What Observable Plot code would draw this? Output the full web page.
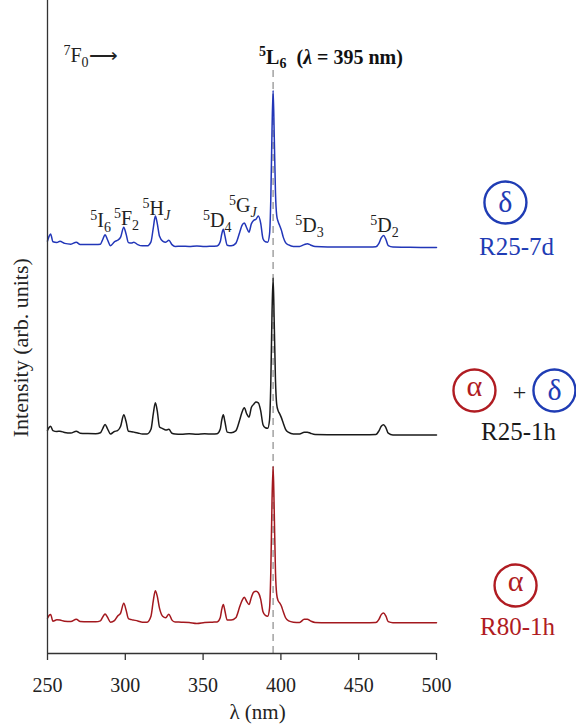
<!DOCTYPE html>
<html>
<head>
<meta charset="utf-8">
<script src="https://cdn.jsdelivr.net/npm/d3@7"></script>
<script src="https://cdn.jsdelivr.net/npm/@observablehq/plot@0.6"></script>
<style>
  html, body { margin: 0; padding: 0; background: #fff; }
  #chart { width: 576px; height: 727px; overflow: hidden; }
</style>
</head>
<body>
<div id="chart"></div>
<script>
// Wavelength grid (nm)
const wavelength = [250,251,252,253.5,256,258,261,265,268.5,271,276,281,284,285.5,287,288.5,290.5,293,295,297,299,300.5,302,304,305.5,308,311,314,316.5,318,319.3,320.5,322,324,326,328,330,332,336,341,346,351,356,359,361,362,363,364,365.5,368,371,373.5,375,376.5,378,379.5,381,382.5,384,385.5,387,388.5,390,391.5,392.7,393.5,394.3,395,395.7,396.5,397.3,398.2,399.2,400.3,401.5,403,405,408,412,415,417,419,422,430,440,450,457,461,463,464.5,466,467.5,469,472,480,490,500];

// Normalised intensities (arb. units)
const r25_7d = [0.035,0.065,0.08,0.03,0.025,0.033,0.02,0.015,0.028,0.012,0.013,0.012,0.015,0.045,0.075,0.045,0.005,0.03,0.04,0.06,0.124,0.08,0.025,0.022,0.028,0.012,0.004,0.004,0.03,0.12,0.195,0.15,0.065,0.035,0.028,0.04,0.012,0.0,0.002,0.0,0.003,0.0,0.002,0.003,0.03,0.08,0.11,0.07,0.008,0.004,0.02,0.09,0.135,0.15,0.12,0.092,0.145,0.167,0.175,0.195,0.15,0.05,0.03,0.028,0.08,0.3,0.75,1.0,0.72,0.35,0.2,0.16,0.135,0.105,0.06,0.025,0.01,0.0,0.0,0.012,0.018,0.01,0.0,-0.003,-0.003,-0.004,-0.004,-0.002,0.02,0.055,0.07,0.045,0.005,-0.004,-0.005,-0.006,-0.006];
const r25_1h = [0.022,0.042,0.05,0.022,0.016,0.018,0.01,0.006,0.018,0.005,0.003,0.002,0.008,0.035,0.061,0.035,0.0,0.016,0.022,0.05,0.123,0.08,0.017,0.015,0.012,0.007,0.0,0.0,0.03,0.13,0.2,0.15,0.045,0.035,0.025,0.03,0.005,0.0,-0.002,0.001,-0.002,0.001,0.0,0.002,0.03,0.09,0.123,0.08,0.012,0.008,0.02,0.09,0.14,0.168,0.13,0.108,0.17,0.19,0.205,0.2,0.15,0.06,0.04,0.037,0.09,0.32,0.78,1.0,0.72,0.35,0.19,0.15,0.13,0.105,0.07,0.03,0.01,0.0,0.0,0.012,0.012,0.005,-0.003,-0.004,-0.004,-0.004,-0.004,-0.003,0.02,0.05,0.06,0.04,0.005,-0.006,-0.006,-0.006,-0.006];
const r80_1h = [0.027,0.045,0.051,0.008,0.017,0.015,0.008,0.006,0.02,0.006,0.004,0.004,0.01,0.035,0.055,0.035,0.002,0.012,0.04,0.06,0.123,0.08,0.025,0.018,0.015,0.01,0.002,0.002,0.04,0.14,0.204,0.17,0.09,0.04,0.03,0.053,0.015,0.003,0.002,0.0,-0.006,0.0,0.002,0.003,0.03,0.085,0.115,0.075,0.015,0.015,0.03,0.1,0.14,0.161,0.135,0.115,0.16,0.195,0.2,0.19,0.15,0.068,0.045,0.04,0.09,0.32,0.78,1.0,0.72,0.33,0.18,0.14,0.125,0.105,0.07,0.03,0.01,0.002,0.0,0.02,0.02,0.01,0.0,-0.002,-0.002,-0.002,-0.002,-0.001,0.02,0.05,0.06,0.04,0.005,-0.002,-0.002,-0.002,-0.002];

// Vertical offsets of the stacked spectra
const seriesNames = ["R25-7d", "R25-1h", "R80-1h"];
const seriesOffsets = [2.609, 1.407, 0.199];
const seriesColors = ["#2236b8", "#1a1a1a", "#a3181e"];
const seriesValues = [r25_7d, r25_1h, r80_1h];

// Axis ticks
const xTicks = [250, 300, 350, 400, 450, 500];

// Transition labels (^{} superscript, _{} subscript, ~ italic)
const transLabels = ["^{5}I_{6}", "^{5}F_{2}", "^{5}H_{~J}", "^{5}D_{4}", "^{5}G_{~J}", "^{5}D_{3}", "^{5}D_{2}"];
const transX = [284.1, 300.8, 320.0, 359.1, 375.6, 418.4, 466.6];
const transY = [2.776, 2.788, 2.853, 2.776, 2.872, 2.744, 2.744];

// Phase markers on the right
const markGlyphs = ["δ", "α", "δ", "α"];
const markX = [544.3, 524.4, 575.8, 550.8];
const markY = [2.891, 1.686, 1.686, 0.436];
const markColors = ["#1f3cb4", "#b01c22", "#1f3cb4", "#b01c22"];
const sampleLabels = ["R25-7d", "R25-1h", "R80-1h"];
const sampleX = [551.4, 552.7, 552.1];
const sampleY = [2.605, 1.422, 0.167];
const sampleColors = ["#1f3cb4", "#1a1a1a", "#b01c22"];

const rows = seriesNames.flatMap((name, i) =>
  wavelength.map((w, j) => ({series: name, wl: w, y: seriesValues[i][j] + seriesOffsets[i]}))
);

const F = "'Liberation Serif', 'Times New Roman', serif";

const chart = Plot.plot({
  width: 576,
  height: 727,
  marginLeft: 47,
  marginRight: 140,
  marginTop: 0,
  marginBottom: 74,
  style: {fontFamily: F, background: "white", overflow: "visible"},
  x: {domain: [250, 500], axis: null},
  y: {domain: [0, 653 / 156], axis: null},
  marks: [
    Plot.ruleX([395], {y1: 0, y2: 3.758, stroke: "#a8a8a8", strokeWidth: 1.6, strokeDasharray: "7,5"}),
    ...seriesNames.map((name, i) =>
      Plot.line(rows.filter(d => d.series === name), {x: "wl", y: "y", stroke: seriesColors[i], strokeWidth: 1.5, curve: "monotone-x"})
    ),
    Plot.ruleY([0], {stroke: "#333", strokeWidth: 1.3}),
    Plot.ruleX([250], {stroke: "#333", strokeWidth: 1.3}),
    Plot.axisX({ticks: xTicks, tickSize: 7, tickPadding: 17, fontSize: 20, fontFamily: F, tickFormat: d3.format("d"), stroke: "#333", strokeWidth: 1.3, fill: "#222", label: null}),
    Plot.text(["λ (nm)"], {x: () => 385, frameAnchor: "bottom", lineAnchor: "middle", dy: 59, fontSize: 21, fontFamily: F, fill: "#222"}),
    Plot.text(["Intensity (arb. units)"], {y: () => 1.96, frameAnchor: "left", textAnchor: "middle", lineAnchor: "middle", dx: -27, rotate: -90, fontSize: 22, fontFamily: F, fill: "#222"}),
    Plot.text(["^{7}F_{0}⟶"], {x: () => 277.6, y: () => 3.833, fontSize: 20, fontFamily: F, fill: "#222"}),
    Plot.text(["^{5}L_{6}  (*{λ} = 395 nm)"], {x: () => 386, y: () => 3.822, textAnchor: "start", fontSize: 20, fontFamily: F, fontWeight: "bold", fill: "#111"}),
    Plot.text(transLabels, {x: (d, i) => transX[i], y: (d, i) => transY[i], fontSize: 20, fontFamily: F, fill: "#222"}),
    Plot.dot(markGlyphs, {x: (d, i) => markX[i], y: (d, i) => markY[i], r: 21, stroke: (d, i) => markColors[i], strokeWidth: 2.4, fill: "white"}),
    Plot.text(markGlyphs, {x: (d, i) => markX[i], y: (d, i) => markY[i], fill: (d, i) => markColors[i], fontSize: 30, fontFamily: F}),
    Plot.text(["+"], {x: () => 553.3, y: () => 1.673, fontSize: 24, fontFamily: F, fill: "#222"}),
    Plot.text(sampleLabels, {x: (d, i) => sampleX[i], y: (d, i) => sampleY[i], fill: (d, i) => sampleColors[i], fontSize: 25, fontFamily: F})
  ]
});

// rich text: ^{..} superscript, _{..} subscript, *{..} italic, leading ~ inside braces = italic
function richify(root) {
  const NS = "http://www.w3.org/2000/svg";
  root.querySelectorAll("text").forEach(t => {
    const s = t.textContent;
    if (!/[\^_*]\{/.test(s)) return;
    const re = /([\^_*])\{([^}]*)\}/g;
    const parts = [];
    let last = 0, m;
    while ((m = re.exec(s))) {
      if (m.index > last) parts.push({kind: "n", text: s.slice(last, m.index)});
      parts.push({kind: m[1] === "^" ? "sup" : m[1] === "_" ? "sub" : "it", text: m[2]});
      last = re.lastIndex;
    }
    if (last < s.length) parts.push({kind: "n", text: s.slice(last)});
    t.textContent = "";
    let cur = 0;
    for (const p of parts) {
      const ts = document.createElementNS(NS, "tspan");
      const small = p.kind === "sup" || p.kind === "sub";
      const target = p.kind === "sup" ? -0.36 : p.kind === "sub" ? 0.24 : 0;
      const size = small ? 0.7 : 1;
      let txt = p.text;
      if (txt.startsWith("~")) { txt = txt.slice(1); ts.setAttribute("font-style", "italic"); }
      if (p.kind === "it") ts.setAttribute("font-style", "italic");
      if (small) ts.setAttribute("font-size", "70%");
      if (Math.abs(target - cur) > 1e-9) ts.setAttribute("dy", ((target - cur) / size).toFixed(3) + "em");
      cur = target;
      ts.textContent = txt;
      t.appendChild(ts);
    }
  });
}
richify(chart);
chart.setAttribute("font-family", F);
// nudge alpha glyphs so they sit centred in their circles
chart.querySelectorAll("text").forEach(t => {
  if (t.textContent === "α") t.setAttribute("y", "0.2em");
});
document.getElementById("chart").appendChild(chart);
</script>
</body>
</html>
